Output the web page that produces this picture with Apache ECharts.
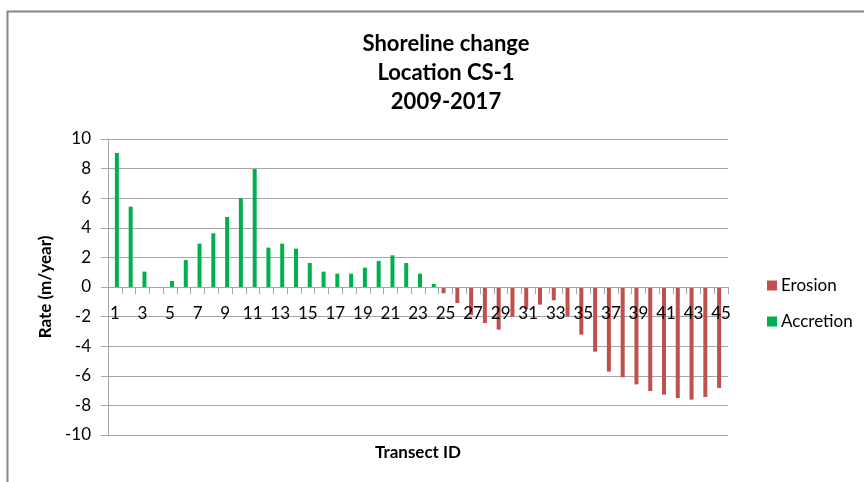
<!DOCTYPE html>
<html>
<head>
<meta charset="utf-8">
<script src="https://cdn.jsdelivr.net/npm/echarts@6/dist/echarts.min.js"></script>
<style>
html,body{margin:0;padding:0;background:#fff;}
#chart{width:864px;height:482px;}
</style>
</head>
<body>
<div id="chart"></div>
<script>
var categories = [];
for (var i = 1; i <= 45; i++) categories.push(String(i));

var erosion = [null,null,null,null,null,null,null,null,null,null,
  null,null,null,null,null,null,null,null,null,null,
  null,null,null,null,
  -0.42,-1.08,-1.9,-2.43,-2.88,-2.0,-1.5,-1.19,-0.9,-1.98,
  -3.22,-4.37,-5.72,-6.1,-6.58,-7.03,-7.27,-7.5,-7.61,-7.43,-6.82];

var accretion = [9.05,5.43,1.04,0,0.41,1.82,2.93,3.63,4.73,5.99,
  7.97,2.66,2.93,2.59,1.62,1.04,0.9,0.9,1.31,1.76,
  2.14,1.62,0.9,0.2,
  null,null,null,null,null,null,null,null,null,null,
  null,null,null,null,null,null,null,null,null,null,null];

var yTicks = {min:-10, max:10, interval:2};

var FONT = 'Lato, "Open Sans", sans-serif';
var chart = echarts.init(document.getElementById('chart'), null, {renderer:'canvas'});
// grid geometry: y from -10..10 over 296px => zero line 148px above the bottom edge
var gridTop = 139, gridBottom = 47, gridH = 482 - gridTop - gridBottom;
var zeroOffset = -gridH * (0 - yTicks.min) / (yTicks.max - yTicks.min);
chart.setOption({
  animation:false,
  backgroundColor:'#ffffff',
  title:{
    text:'Shoreline change\nLocation CS-1\n2009-2017',
    left:441, top:24, textAlign:'center',
    textStyle:{fontFamily:FONT, fontWeight:'bold', fontSize:22, lineHeight:29, color:'#000'}
  },
  legend:{
    orient:'vertical', left:762, top:272,
    itemWidth:10, itemHeight:10, itemGap:19,
    icon:'rect',
    textStyle:{fontFamily:FONT, fontSize:17, color:'#000', lineHeight:17, padding:[0,0,0,-1]},
    data:['Erosion','Accretion']
  },
  grid:{left:108, right:136, top:gridTop, bottom:gridBottom, containLabel:false, outerBoundsMode:'none'},
  xAxis:{
    type:'category', data:categories, offset:zeroOffset, z:5,
    name:'Transect ID', nameLocation:'middle', nameGap:157,
    nameTextStyle:{fontFamily:FONT, fontWeight:'bold', fontSize:17, color:'#000'},
    axisLine:{onZero:false, lineStyle:{color:'#a6a6a6', width:1}},
    axisTick:{show:true, interval:0, alignWithLabel:false, length:7, lineStyle:{color:'#a6a6a6'}},
    axisLabel:{interval:1, margin:18, fontFamily:FONT, fontSize:17, color:'#000'},
    splitLine:{show:false}
  },
  yAxis:{
    type:'value', min:yTicks.min, max:yTicks.max, interval:yTicks.interval,
    name:'Rate (m/year)', nameLocation:'middle', nameGap:50, nameRotate:90,
    nameTextStyle:{fontFamily:FONT, fontWeight:'bold', fontSize:17, color:'#000'},
    axisLine:{show:true, lineStyle:{color:'#a6a6a6', width:1}},
    axisTick:{show:true, length:7, lineStyle:{color:'#a6a6a6'}},
    axisLabel:{margin:17, fontFamily:FONT, fontSize:17, color:'#000', showMinLabel:true, showMaxLabel:true},
    splitLine:{show:true, lineStyle:{color:'#a6a6a6', width:1}}
  },
  series:[
    {name:'Erosion', type:'bar', data:erosion, barWidth:4, barGap:'0%',
     itemStyle:{color:'#c0504d'}},
    {name:'Accretion', type:'bar', data:accretion, barWidth:4, barGap:'0%',
     itemStyle:{color:'#00b050'}}
  ],
  graphic:[
    {type:'polyline', silent:true, shape:{points:[[7.5,482],[7.5,11.5],[864,11.5]]},
     style:{stroke:'#868686', lineWidth:2, fill:null}}
  ]
});
</script>
</body>
</html>
